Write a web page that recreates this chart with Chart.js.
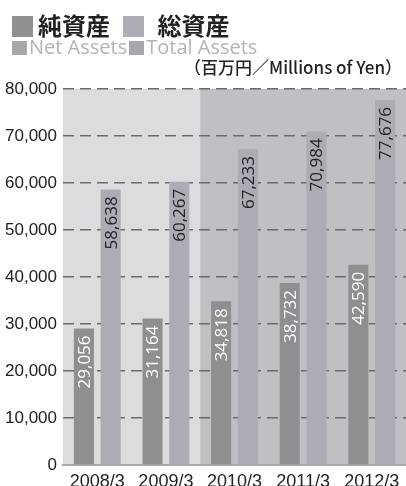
<!DOCTYPE html>
<html>
<head>
<meta charset="utf-8">
<script src="https://cdn.jsdelivr.net/npm/chart.js@4"></script>
<style>
  html, body { margin: 0; padding: 0; background: #fff; }
  #wrap { position: relative; width: 406px; height: 486px; overflow: hidden; }
  #chart { position: absolute; left: 0; top: 0; }
  .txt { position: absolute; white-space: nowrap; }
  #title { left: 12px; top: 10px; font: bold 24px "Noto Sans CJK JP"; line-height: 30px; color: #222; }
  #title .sq { display: inline-block; width: 21px; height: 21px; vertical-align: -2px; margin-right: 5px; }
  #sub { left: 12px; top: 35px; font: 500 20px "Open Sans"; line-height: 24px; color: #b3b3b8; }
  #sub .sq { display: inline-block; width: 15px; height: 14px; background: #a6a6ab; margin-right: 2px; vertical-align: -1px; }
  #unit { right: 4px; top: 57px; font: 500 17px "Noto Sans CJK JP"; line-height: 20px; color: #222; }
</style>
</head>
<body>
<div id="wrap">
  <canvas id="chart" width="406" height="486"></canvas>
  <div class="txt" id="title"><span class="sq" style="background:#909092"></span>純資産 <span class="sq" style="background:#adadb5;margin-left:8px;margin-right:13px"></span>総資産</div>
  <div class="txt" id="sub"><span class="sq"></span>Net Assets<span class="sq" style="margin-left:2px"></span>Total Assets</div>
  <div class="txt" id="unit">（百万円／Millions of Yen）</div>
</div>
<script>
const years = ['2008/3', '2009/3', '2010/3', '2011/3', '2012/3'];
const netAssets = [29056, 31164, 34818, 38732, 42590];
const totalAssets = [58638, 60267, 67233, 70984, 77676];
const yTicks = [0, 10000, 20000, 30000, 40000, 50000, 60000, 70000, 80000];

function fmt(n) {
  return Number(n).toLocaleString('en-US');
}

// two shaded background zones behind the bars
const bgZones = {
  id: 'bgZones',
  beforeDraw(chart) {
    const { ctx, chartArea, scales } = chart;
    const split = (scales.x.getPixelForValue(1) + scales.x.getPixelForValue(2)) / 2;
    const top = scales.y.getPixelForValue(80000);
    const bottom = scales.y.getPixelForValue(0);
    ctx.save();
    ctx.fillStyle = '#dcdcdf';
    ctx.fillRect(chartArea.left, top, split - chartArea.left, bottom - top);
    ctx.fillStyle = '#bfc0c4';
    ctx.fillRect(split, top, chartArea.right - split, bottom - top);
    ctx.restore();
  }
};

// vertical value labels inside each bar
const barLabels = {
  id: 'barLabels',
  afterDatasetsDraw(chart) {
    const { ctx } = chart;
    ctx.save();
    ctx.font = '17px "Open Sans"';
    ctx.textAlign = 'right';
    ctx.textBaseline = 'middle';
    chart.data.datasets.forEach((ds, i) => {
      const meta = chart.getDatasetMeta(i);
      ctx.fillStyle = i === 0 ? '#ffffff' : '#222222';
      meta.data.forEach((bar, j) => {
        ctx.save();
        ctx.translate(bar.x, bar.y + 7);
        ctx.rotate(-Math.PI / 2);
        ctx.fillText(fmt(ds.data[j]), 0, 1);
        ctx.restore();
      });
    });
    ctx.restore();
  }
};

new Chart(document.getElementById('chart'), {
  type: 'bar',
  data: {
    labels: years,
    datasets: [
      { label: 'Net Assets', data: netAssets, backgroundColor: '#8f8f92' },
      { label: 'Total Assets', data: totalAssets, backgroundColor: '#acacb4' }
    ]
  },
  options: {
    responsive: false,
    animation: false,
    devicePixelRatio: 1,
    layout: { padding: { top: 89, right: 0, left: 0, bottom: 0 } },
    datasets: {
      bar: { categoryPercentage: 0.78, barPercentage: 0.75 }
    },
    plugins: {
      legend: { display: false },
      tooltip: { enabled: false }
    },
    scales: {
      x: {
        grid: { display: false, drawTicks: false },
        border: { display: true, color: '#a9a9ad', width: 2 },
        ticks: { color: '#222', font: { family: 'Liberation Sans', size: 18 }, padding: 6, maxRotation: 0 },
        afterFit(scale) { scale.height = 21; }
      },
      y: {
        min: 0,
        max: 80000,
        afterBuildTicks(scale) { scale.ticks = yTicks.map(v => ({ value: v })); },
        grid: {
          drawTicks: false,
          color: ctx => (ctx.tick && ctx.tick.value === 0 ? 'rgba(0,0,0,0)' : '#6a6a6c'),
          lineWidth: 1.6
        },
        border: { display: false, dash: [11, 6] },
        ticks: {
          color: '#222',
          font: { family: 'Liberation Sans', size: 17 },
          padding: 6,
          callback: v => fmt(v)
        },
        afterFit(scale) { scale.width = 63; }
      }
    }
  },
  plugins: [bgZones, barLabels]
});
</script>
</body>
</html>
